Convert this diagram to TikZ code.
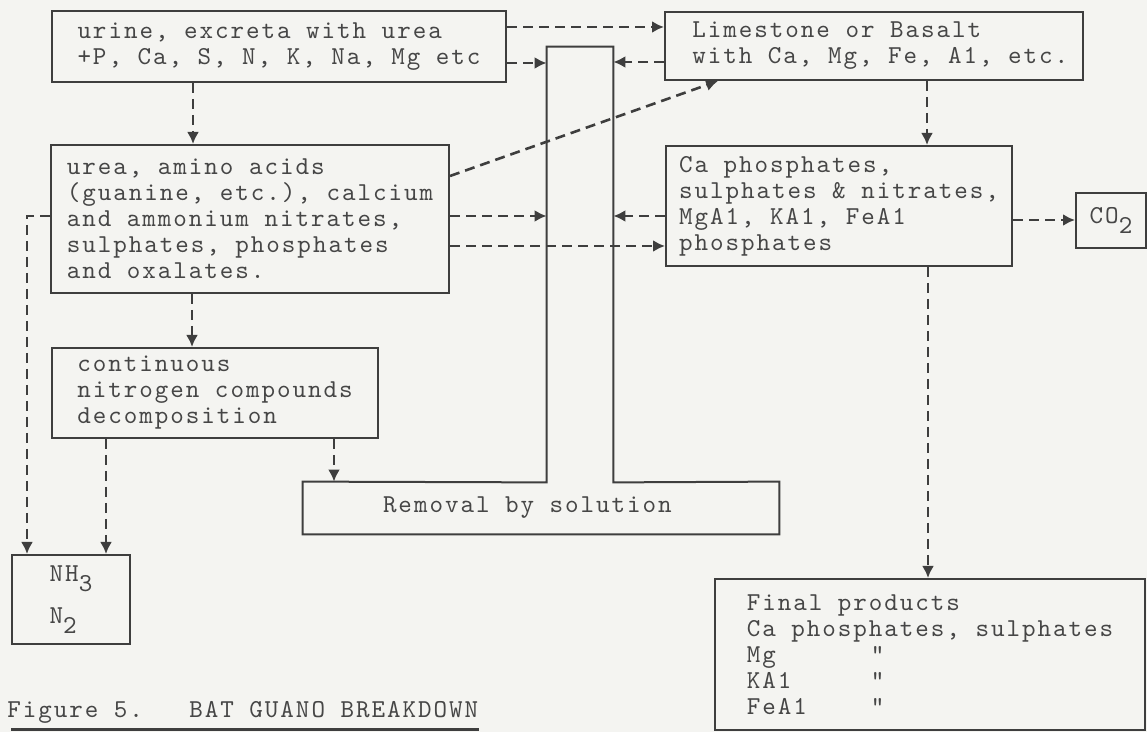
\documentclass[tikz,border=0pt]{standalone}
\usepackage{fontspec}
\setmonofont{lmmono10-regular.otf}[LetterSpace=7.6]
\usepackage{tikz}
\usetikzlibrary{arrows.meta}
\definecolor{paper}{RGB}{244,244,241}
\definecolor{ink}{RGB}{62,62,62}
\definecolor{typed}{RGB}{70,70,70}
\newcommand{\typefont}{\ttfamily\fontsize{12.9pt}{13pt}\selectfont}
\newcommand{\lowered}[1]{\raisebox{-5pt}{#1}}
\tikzset{
  box/.style={draw=ink, line width=1pt, align=left, inner sep=0pt},
  flow/.style={draw=ink, line width=1.3pt, dash pattern=on 5pt off 3pt, -{Latex[length=6pt,width=6pt]}}
}

\begin{document}
\begin{tikzpicture}[x=0.5pt, y=-0.5pt, text=typed, font=\typefont]
  \fill[paper] (0,0) rectangle (1147,732);
  \useasboundingbox (0,0) rectangle (1147,732);

  % top row
  \node[box, minimum width=227pt, minimum height=35.5pt] (urine) at (279,46.5) {urine, excreta with urea\\+P, Ca, S, N, K, Na, Mg etc};
  \node[box, minimum width=209pt, minimum height=34pt] (limestone) at (874,46) {};
  \node[anchor=west, align=left, inner sep=0pt] (limestonetext) at ([xshift=14pt]limestone.west) {Limestone or Basalt\\with Ca, Mg, Fe, A1, etc.};

  % middle row
  \node[box, minimum width=199pt, minimum height=74pt] (urea) at (250,219) {urea, amino acids\\(guanine, etc.), calcium\\and ammonium nitrates,\\sulphates, phosphates\\and oxalates.};
  \node[box, minimum width=173pt, minimum height=60pt] (caphos) at (839,206) {Ca phosphates,\\sulphates \& nitrates,\\MgA1, KA1, FeA1\\phosphates};
  \node[box, minimum width=35pt, minimum height=27.5pt] (co2) at (1111,220.5) {CO\lowered{2}};

  \node[box, minimum width=163pt, minimum height=45pt] (contin) at (215,393) {continuous\\nitrogen compounds\\decomposition};
  \node[box, minimum width=59pt, minimum height=44.5pt] (gases) at (71,599.5) {NH\lowered{3}\\[7pt]N\lowered{2}};

  % removal by solution, with its stem
  \node[minimum width=33pt, minimum height=217.5pt, inner sep=0pt] (stem) at (580,264.5) {};
  \node[minimum width=238pt, minimum height=26pt, inner xsep=40pt, inner ysep=0pt] (removal) at (541,508) {\makebox[158pt][l]{Removal by solution}};
  \draw[ink, line width=1pt] (removal.north west) -- (stem.south west) -- (stem.north west)
    -- (stem.north east) -- (stem.south east) -- (removal.north east)
    -- (removal.south east) -- (removal.south west) -- cycle;

  \node[box, minimum width=215pt, minimum height=75.5pt] (final) at (930,654.5) {Final products\\Ca phosphates, sulphates\\\makebox[62pt][l]{Mg}"\\\makebox[62pt][l]{KA1}"\\\makebox[62pt][l]{FeA1}"};

  \node[anchor=west, inner sep=0pt] (caption) at (7,712) {Figure 5.\hspace{23.2pt}BAT GUANO BREAKDOWN};
  \draw[ink, line width=1.5pt] ([xshift=2pt]caption.west |- 0,729) -- (caption.east |- 0,729);

  % arrows
  \draw[flow] (urine.east |- 0,27) -- (limestone.west |- 0,27);
  \draw[flow] (urine.east |- 0,63) -- (stem.west |- 0,63);
  \draw[flow] (limestone.west |- 0,62) -- (stem.east |- 0,62);
  \draw[flow] (urine.south -| 193,0) -- (urea.north -| 193,0);
  \draw[flow] (limestone.south -| 927,0) -- (caphos.north -| 927,0);

  \draw[flow] (urea.east |- 0,176) -- (limestone.south -| 718,0);
  \draw[flow] (urea.east |- 0,216) -- (stem.west |- 0,216);
  \draw[flow] (caphos.west |- 0,216) -- (stem.east |- 0,216);
  \draw[flow] (urea.east |- 0,246) -- (caphos.west |- 0,246);
  \draw[flow] (caphos.east |- 0,220) -- (co2.west |- 0,220);
  \draw[flow] (caphos.south -| 928,0) -- (final.north -| 928,0);

  \draw[flow] (urea.west |- 0,216) -| (gases.north -| 27,0);
  \draw[flow] (urea.south -| 192,0) -- (contin.north -| 192,0);
  \draw[flow] (contin.south -| 106,0) -- (gases.north -| 106,0);
  \draw[flow] (contin.south -| 334,0) -- (removal.north -| 334,0);
\end{tikzpicture}
\end{document}
